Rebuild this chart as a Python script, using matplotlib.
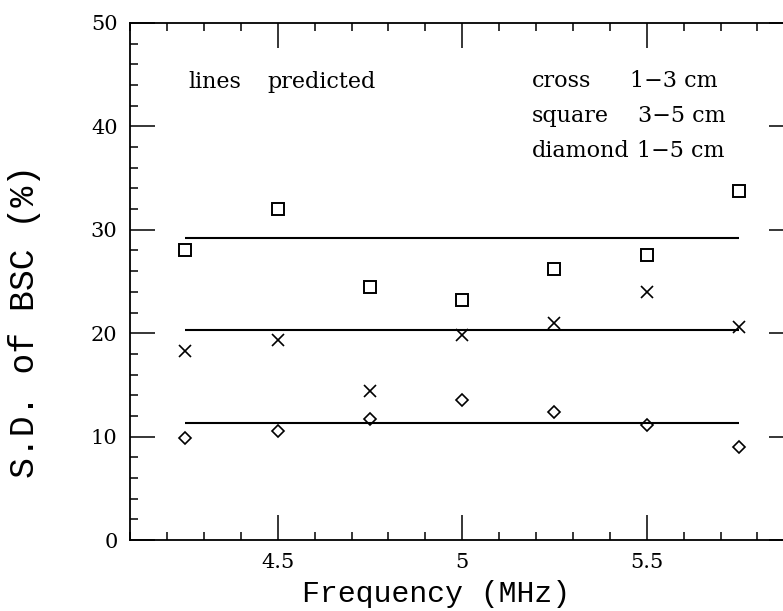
import matplotlib
matplotlib.use("Agg")
import matplotlib.pyplot as plt
from matplotlib.ticker import FixedLocator, MultipleLocator

# ---- data ----
freq = [4.25, 4.5, 4.75, 5.0, 5.25, 5.5, 5.75]
cross_sd = [18.3, 19.3, 14.4, 19.8, 21.0, 24.0, 20.6]      # 1-3 cm
square_sd = [28.0, 32.0, 24.45, 23.2, 26.2, 27.6, 33.8]    # 3-5 cm
diamond_sd = [9.85, 10.5, 11.7, 13.5, 12.4, 11.1, 8.95]    # 1-5 cm
pred_range = [4.25, 5.75]
pred_cross = 20.3
pred_square = 29.2
pred_diamond = 11.3
xtick_vals = [4.5, 5.0, 5.5]
xtick_labels = ["4.5", "5", "5.5"]
ytick_vals = [0, 10, 20, 30, 40, 50]
ytick_labels = ["0", "10", "20", "30", "40", "50"]

W, H = 783, 611
fig = plt.figure(figsize=(W / 100, H / 100), dpi=100)
ax = fig.add_axes([130.1 / W, (H - 540) / H, 664.2 / W, 517 / H])

tick_font = dict(family="DejaVu Serif", size=15)
lab_font = "Liberation Mono"

# predicted lines
for v in (pred_square, pred_cross, pred_diamond):
    ax.plot(pred_range, [v, v], color="black", lw=1.5, solid_capstyle="butt")

ax.plot(freq, square_sd, ls="none", marker="s", ms=8, mfc="none", mec="black", mew=1.4)
ax.plot(freq, cross_sd, ls="none", marker="x", ms=9, mec="black", mew=1.2)
ax.plot(freq, diamond_sd, ls="none", marker="D", ms=6.3, mfc="none", mec="black", mew=1.2)

ax.set_xlim(4.1, 5.9)
ax.set_ylim(0, 50)
ax.xaxis.set_major_locator(FixedLocator(xtick_vals))
ax.set_xticklabels(xtick_labels, **tick_font)
ax.xaxis.set_minor_locator(MultipleLocator(0.1))
ax.yaxis.set_major_locator(FixedLocator(ytick_vals))
ax.set_yticklabels(ytick_labels, **tick_font)
ax.yaxis.set_minor_locator(MultipleLocator(2))

ax.tick_params(which="both", direction="in", top=True, right=True, width=1.1, color="black")
ax.tick_params(which="major", length=18, pad=9)
ax.tick_params(which="minor", length=6)
for s in ax.spines.values():
    s.set_linewidth(1.3)

# annotations
tfont = dict(family="DejaVu Serif", size=16, va="baseline", ha="left", transform=ax.transAxes)
ax.text(0.0876, 0.8737, "lines", **tfont)
ax.text(0.2072, 0.8737, "predicted", **tfont)
ax.text(0.6046, 0.8768, "cross", **tfont)
ax.text(0.7526, 0.8768, "1\u22123 cm", **tfont)
ax.text(0.6046, 0.8090, "square", **tfont)
ax.text(0.7651, 0.8090, "3\u22125 cm", **tfont)
ax.text(0.6046, 0.7414, "diamond", **tfont)
ax.text(0.7627, 0.7414, "1\u22125 cm", **tfont)

fig.text(435.9 / W, (H - 601.7) / H, "Frequency (MHz)", family=lab_font, size=21.5,
         ha="center", va="baseline")
fig.text(25 / W, 1 - 321.5 / H, "S.D. of BSC (%)", family=lab_font, size=25,
         ha="center", va="center", rotation=90)

fig.savefig("out.png", dpi=100)
